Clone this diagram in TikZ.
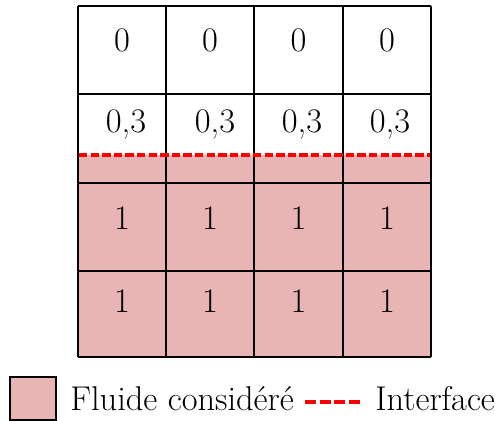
\documentclass[tikz,border=0pt]{standalone}
\begin{document}
\begin{tikzpicture}[x=0.5pt,y=-0.5pt,
  font=\fontsize{17.2}{20}\selectfont,
  gridline/.style={line width=1pt,black},
  iface/.style={red,line width=1.6pt,dash pattern=on 4.2pt off 1.6pt},
  legiface/.style={red,line width=1.6pt,dash pattern=on 5.5pt off 1.8pt},
  val/.style={anchor=base,inner sep=0pt}]
\definecolor{fluid}{RGB}{233,180,180}
\useasboundingbox (0,0) rectangle (495,421);
% fluid fill
\fill[fluid] (78,155) rectangle (431,357);
% grid
\foreach \x in {78,166,254,343,431} \draw[gridline] (\x,6) -- (\x,357);
\foreach \y in {6,94,183,271,357} \draw[gridline] (78,\y) -- (431,\y);
% interface
\coordinate (ifL) at (79,155);
\coordinate (ifR) at (430,155);
\draw[iface] (ifL) -- (ifR);
% values
\node[val] (a1) at (122,52) {0};
\node[val] (a2) at (210,52) {0};
\node[val] (a3) at (298.5,52) {0};
\node[val] (a4) at (387,52) {0};
\node[val] (b1) at (126,133) {0,3};
\node[val] (b2) at (215,133) {0,3};
\node[val] (b3) at (302,133) {0,3};
\node[val] (b4) at (390,133) {0,3};
\node[val] (c1) at (122,230) {1};
\node[val] (c2) at (210,230) {1};
\node[val] (c3) at (298.5,230) {1};
\node[val] (c4) at (387,230) {1};
\node[val] (d1) at (122,313) {1};
\node[val] (d2) at (210,313) {1};
\node[val] (d3) at (298.5,313) {1};
\node[val] (d4) at (387,313) {1};
% legend
\node[draw=black,line width=0.8pt,fill=fluid,minimum width=23pt,minimum height=21.5pt,inner sep=0pt] (legbox) at (33,398.5) {};
\node[anchor=base west,inner sep=0pt] (legfluid) at (70,411) {Fluide considéré};
\coordinate (legL) at (305,402);
\coordinate (legR) at (363,402);
\draw[legiface] (legL) -- (legR);
\node[anchor=base west,inner sep=0pt] (leginter) at (375,411) {Interface};
\end{tikzpicture}
\end{document}
